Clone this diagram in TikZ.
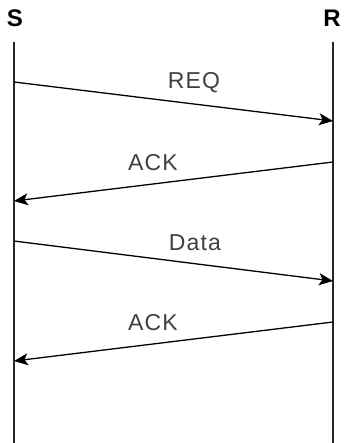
\documentclass[tikz,border=0pt]{standalone}
\usepackage{fontspec}
\setmainfont{Liberation Sans}
\newfontfamily\labelfont[LetterSpace=5.0]{Liberation Sans}
\usetikzlibrary{arrows.meta}
\begin{document}
\begin{tikzpicture}[x=1pt,y=-1pt,
  party/.style={font=\fontsize{24}{24}\selectfont\bfseries, inner sep=0pt, anchor=center},
  lifeline/.style={line width=1.3pt, draw=black!85},
  msg/.style={line width=1.3pt, draw=black, -{Stealth[length=14pt,width=12pt,inset=3.5pt]}},
  msglabel/.style={font=\labelfont\fontsize{23}{23}\selectfont, text=black!75, inner sep=0pt, anchor=center}]
  \useasboundingbox (0,0) rectangle (343,443);

  % participants
  \node[party] (S) at (15,18) {S};
  \node[party] (R) at (332,18) {R};

  % lifeline ends
  \coordinate (Stop) at (14,42);
  \coordinate (Sbot) at (14,443);
  \coordinate (Rtop) at (333,42);
  \coordinate (Rbot) at (333,443);
  \draw[lifeline] (Stop) -- (Sbot);
  \draw[lifeline] (Rtop) -- (Rbot);

  % message end points
  \coordinate (m1a) at (14,82);   \coordinate (m1b) at (333,121);
  \coordinate (m2a) at (333,162); \coordinate (m2b) at (14,201);
  \coordinate (m3a) at (14,241);  \coordinate (m3b) at (333,281);
  \coordinate (m4a) at (333,322); \coordinate (m4b) at (14,361);

  \draw[msg] (m1a) -- (m1b);
  \draw[msg] (m2a) -- (m2b);
  \draw[msg] (m3a) -- (m3b);
  \draw[msg] (m4a) -- (m4b);

  % message labels
  \node[msglabel] (l1) at (194,83) {REQ};
  \node[msglabel] (l2) at (153,163) {ACK};
  \node[msglabel] (l3) at (195,243) {Data};
  \node[msglabel] (l4) at (153,323) {ACK};
\end{tikzpicture}
\end{document}
